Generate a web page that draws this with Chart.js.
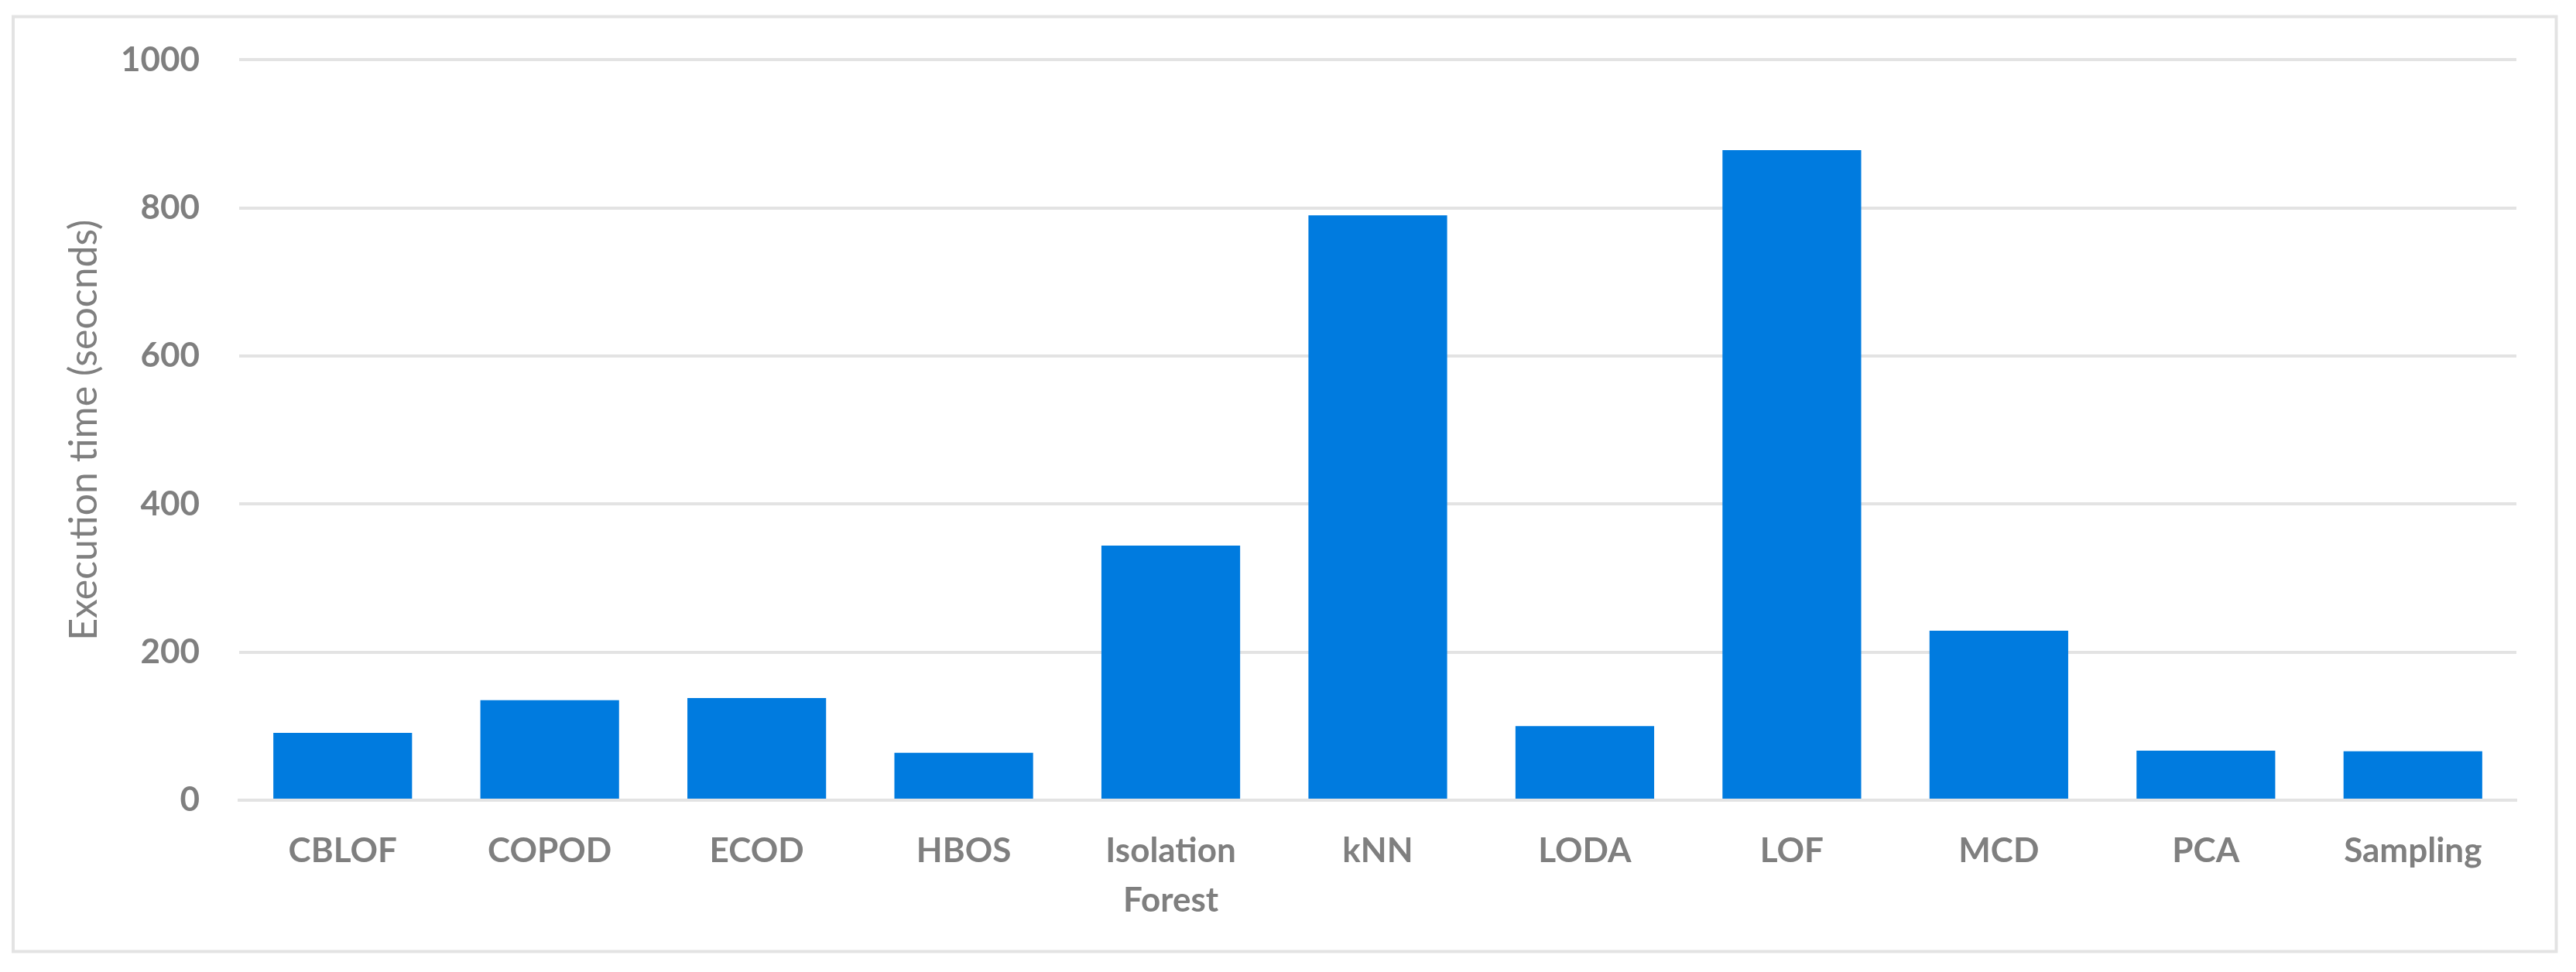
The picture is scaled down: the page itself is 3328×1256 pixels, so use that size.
<!DOCTYPE html>
<html>
<head>
<meta charset="utf-8">
<script src="https://cdn.jsdelivr.net/npm/chart.js@4/dist/chart.umd.min.js"></script>
<style>
  html, body { margin: 0; padding: 0; background: #ffffff; }
  #wrap { width: 3328px; height: 1256px; position: relative; }
  canvas { display: block; }
</style>
</head>
<body>
<div id="wrap"><canvas id="c" width="3328" height="1256"></canvas></div>
<script>
// ---- Data ----
const categories = ['CBLOF', 'COPOD', 'ECOD', 'HBOS', ['Isolation', 'Forest'], 'kNN', 'LODA', 'LOF', 'MCD', 'PCA', 'Sampling'];
const executionTimes = [91, 135, 138, 64, 344, 790, 100, 878, 229, 67, 66];
const yTicks = [0, 200, 400, 600, 800, 1000];
const yTickLabels = ['0', '200', '400', '600', '800', '1000'];
const yAxisTitle = 'Execution time (seocnds)';

// ---- Styles ----
const barColor = '#007bdf';
const gridColor = '#e3e3e3';
const textColor = '#7f7f7f';
const fontFamily = "Lato, 'Open Sans', 'DejaVu Sans', sans-serif";

const outerBorder = {
  id: 'outerBorder',
  beforeDraw(chart) {
    const ctx = chart.ctx;
    ctx.save();
    ctx.fillStyle = '#ffffff';
    ctx.fillRect(0, 0, chart.width, chart.height);
    ctx.strokeStyle = gridColor;
    ctx.lineWidth = 4;
    ctx.strokeRect(17, 21.5, 3285.5, 1208);
    ctx.restore();
  }
};

new Chart(document.getElementById('c'), {
  type: 'bar',
  data: {
    labels: categories,
    datasets: [{
      data: executionTimes,
      backgroundColor: barColor,
      borderWidth: 0,
      categoryPercentage: 1.0,
      barPercentage: 0.67
    }]
  },
  options: {
    responsive: false,
    devicePixelRatio: 1,
    animation: false,
    layout: { padding: { left: 0, right: 77, top: 76, bottom: 0 } },
    plugins: {
      legend: { display: false },
      tooltip: { enabled: false },
      title: { display: false }
    },
    scales: {
      x: {
        z: 1,
        grid: { display: false, drawTicks: false },
        border: { display: true, color: gridColor, width: 4 },
        ticks: {
          color: textColor,
          font: { family: fontFamily, size: 44, weight: 'bold', lineHeight: 1.45 },
          padding: 34,
          maxRotation: 0,
          autoSkip: false
        },
        afterFit(scale) { scale.height = 222; }
      },
      y: {
        min: 0,
        max: 1000,
        afterBuildTicks(scale) { scale.ticks = yTicks.map(v => ({ value: v })); },
        grid: { color: gridColor, lineWidth: 4, drawTicks: false },
        border: { display: false },
        ticks: {
          color: textColor,
          font: { family: fontFamily, size: 44, weight: 'bold' },
          padding: 51,
          callback: (value) => yTickLabels[yTicks.indexOf(value)] ?? String(value)
        },
        title: {
          display: true,
          text: yAxisTitle,
          color: textColor,
          font: { family: fontFamily, size: 50, weight: 'normal' },
          padding: { top: 79, bottom: 0 }
        },
        afterFit(scale) { scale.width = 309; }
      }
    }
  },
  plugins: [outerBorder]
});
</script>
</body>
</html>
